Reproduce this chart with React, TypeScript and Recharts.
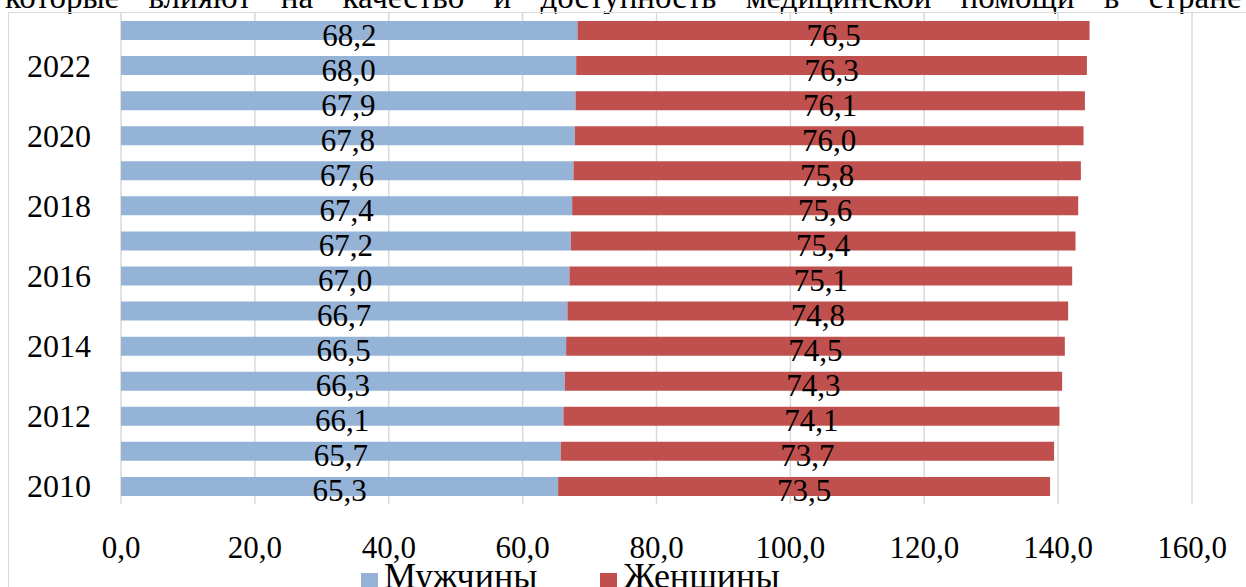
import { BarChart, Bar, XAxis, YAxis, CartesianGrid, LabelList } from "recharts";

const years = [2010, 2011, 2012, 2013, 2014, 2015, 2016, 2017, 2018, 2019, 2020, 2021, 2022, 2023];
const men = [65.3, 65.7, 66.1, 66.3, 66.5, 66.7, 67.0, 67.2, 67.4, 67.6, 67.8, 67.9, 68.0, 68.2];
const women = [73.5, 73.7, 74.1, 74.3, 74.5, 74.8, 75.1, 75.4, 75.6, 75.8, 76.0, 76.1, 76.3, 76.5];
const xTicks = [0, 20, 40, 60, 80, 100, 120, 140, 160];

const FONT = '"Liberation Serif", "DejaVu Serif", serif';
const BLUE = "#95B3D7";
const RED = "#C0504D";
const GRID = "#D9D9D9";

const data = years.map((y, i) => ({ year: y, men: men[i], women: women[i] }));

const fmt = (v: number) => v.toFixed(1).replace(".", ",");

const txt = { fontFamily: FONT };

const YTick = (props: any) => {
  const { y, payload } = props;
  if (payload.value % 2 !== 0) return null;
  return (
    <text x={91} y={y + 11} textAnchor="end" fontSize={32} fill="#000" style={txt}>
      {payload.value}
    </text>
  );
};

const XTick = (props: any) => {
  const { x, payload } = props;
  return (
    <text x={x} y={558} textAnchor="middle" fontSize={31} fill="#000" style={txt}>
      {fmt(payload.value)}
    </text>
  );
};

const BarLabel = (props: any) => {
  const { x, y, width, height, value } = props;
  return (
    <text x={x + width / 2} y={y + height / 2 + 15} textAnchor="middle" fontSize={31} fill="#000" style={txt}>
      {fmt(value)}
    </text>
  );
};

export default function App() {
  return (
    <div
      style={{
        position: "absolute",
        left: 0,
        top: 0,
        width: 1246,
        height: 587,
        overflow: "hidden",
        background: "#fff",
        fontFamily: FONT,
      }}
    >
      {/* tail of the document text above the chart */}
      <svg style={{ position: "absolute", left: 0, top: 0 }} width={1246} height={14}>
        <text x={5} y={8} fontSize={33} fill="#000" style={{ ...txt, wordSpacing: 21 }}>
          которые влияют на качество и доступность медицинской помощи в стране
        </text>
      </svg>
      <div
        style={{
          position: "absolute",
          left: 8,
          top: 12,
          width: 1400,
          height: 700,
          border: `1.5px solid ${GRID}`,
        }}
      />
      <div style={{ position: "absolute", left: 0, top: 0 }}>
        <BarChart
          width={1246}
          height={587}
          data={data}
          layout="vertical"
          margin={{ top: 13, right: 54, bottom: 0, left: 0 }}
          barSize={19}
        >
          <CartesianGrid horizontal={false} stroke={GRID} strokeWidth={1.5} />
          <XAxis
            type="number"
            domain={[0, 160]}
            ticks={xTicks}
            height={83}
            axisLine={false}
            tickLine={false}
            tick={<XTick />}
            interval={0}
          />
          <YAxis
            type="category"
            dataKey="year"
            reversed
            width={121}
            axisLine={false}
            tickLine={false}
            tick={<YTick />}
            interval={0}
          />
          <Bar dataKey="men" stackId="a" fill={BLUE} isAnimationActive={false}>
            <LabelList dataKey="men" content={<BarLabel />} />
          </Bar>
          <Bar dataKey="women" stackId="a" fill={RED} isAnimationActive={false}>
            <LabelList dataKey="women" content={<BarLabel />} />
          </Bar>
        </BarChart>
      </div>
      <div
        style={{
          position: "absolute",
          left: 361,
          top: 562,
          display: "flex",
          alignItems: "center",
          fontSize: 36,
          lineHeight: "28px",
          whiteSpace: "nowrap",
        }}
      >
        <span style={{ display: "inline-block", width: 17, height: 17, background: BLUE, marginRight: 6, marginTop: 10 }} />
        <span>Мужчины</span>
        <span
          style={{ display: "inline-block", width: 17, height: 17, background: RED, marginLeft: 63, marginRight: 6, marginTop: 10 }}
        />
        <span>Женщины</span>
      </div>
    </div>
  );
}
